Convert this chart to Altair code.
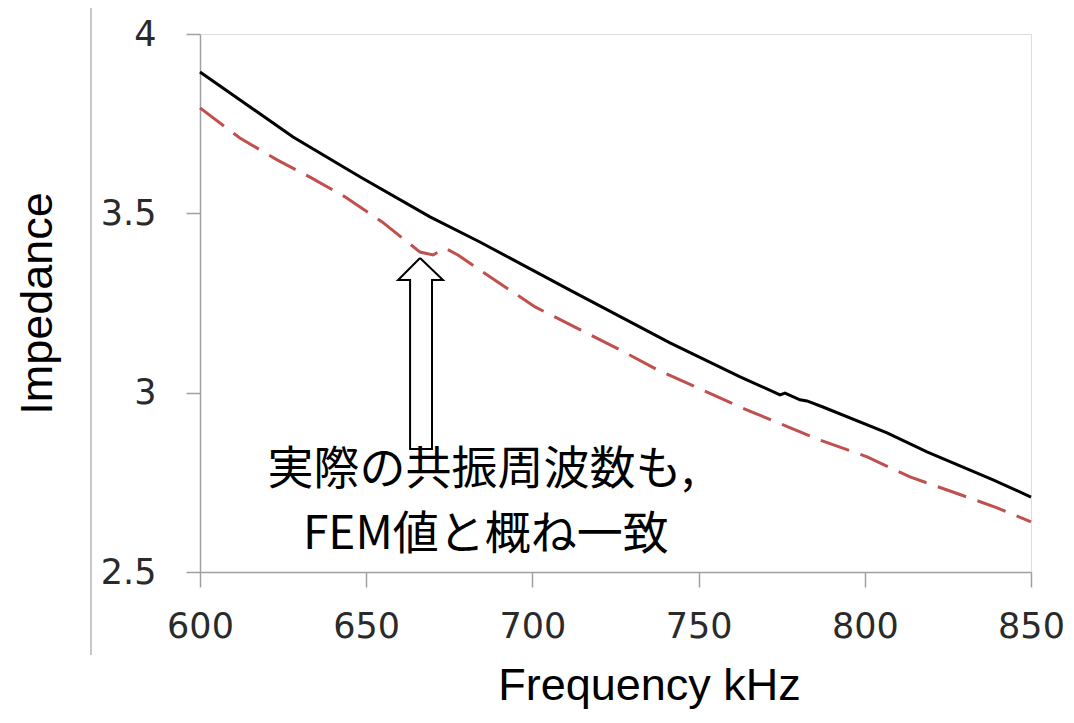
import altair as alt
import pandas as pd

# Black solid line
black_freq = [600, 628.0, 648.1, 669.2, 684.2, 711.3, 741.4, 762.5, 774.5, 776.0,
              780.5, 782.6, 787.4, 806.7, 818.7, 838.6, 850]
black_imp = [3.894, 3.713, 3.602, 3.490, 3.420, 3.286, 3.139, 3.044, 2.994, 2.999,
             2.980, 2.977, 2.960, 2.888, 2.835, 2.757, 2.709]

# Red dashed line
red_freq = [600, 612.0, 623.2, 633.1, 643.6, 654.8, 666.2, 670.1, 673.7, 677.6,
            684.2, 700.8, 713.4, 726.4, 737.8, 749.8, 762.5, 766.1, 786.5,
            800.7, 813.6, 826.5, 839.8, 850]
red_imp = [3.794, 3.710, 3.649, 3.601, 3.546, 3.476, 3.392, 3.384, 3.403, 3.384,
           3.342, 3.239, 3.180, 3.119, 3.063, 3.013, 2.960, 2.946, 2.868,
           2.821, 2.765, 2.723, 2.679, 2.640]

x_ticks = [600, 650, 700, 750, 800, 850]
y_ticks = [2.5, 3, 3.5, 4]

# Hollow up-arrow annotation outline (in data coordinates)
arrow_freq = [666.2, 673.1, 669.8, 669.8, 663.2, 663.2, 659.6, 666.2]
arrow_imp = [3.3755, 3.3142, 3.3142, 2.843, 2.843, 3.3142, 3.3142, 3.3755]

note_lines = ["実際の共振周波数も,", "FEM値と概ね一致"]
note_freq = [684.5, 686.0]
note_imp = [2.785, 2.603]

black_df = pd.DataFrame({"f": black_freq, "z": black_imp})
red_df = pd.DataFrame({"f": red_freq, "z": red_imp})
arrow_df = pd.DataFrame({"f": arrow_freq, "z": arrow_imp, "o": list(range(len(arrow_freq)))})
note_df = pd.DataFrame({"t": note_lines, "f": note_freq, "z": note_imp})

xs = alt.Scale(domain=[600, 850], nice=False, zero=False)
ys = alt.Scale(domain=[2.5, 4], nice=False, zero=False)

x_axis = alt.Axis(values=x_ticks, title="Frequency kHz", grid=False,
                  labelFontSize=35, labelFont="DejaVu Sans", labelColor="#2a2a2a",
                  labelPadding=22, tickSize=15, tickColor="#a0a0a0", domainColor="#a0a0a0",
                  domainWidth=1.5, tickWidth=1.5,
                  titleFontSize=45, titleFont="Liberation Sans", titleFontWeight="normal",
                  titleColor="#000000", titlePadding=19, titleX=449, labelFlush=False)
y_axis = alt.Axis(values=y_ticks, title="Impedance", grid=False,
                  labelFontSize=35, labelFont="DejaVu Sans", labelColor="#2a2a2a",
                  labelPadding=30, tickSize=14, tickColor="#a0a0a0", domainColor="#a0a0a0",
                  domainWidth=1.5, tickWidth=1.5, labelExpr="datum.value",
                  titleFontSize=45, titleFont="Liberation Sans", titleFontWeight="normal",
                  titleColor="#000000", titlePadding=40, labelFlush=False)

black = alt.Chart(black_df).mark_line(color="#000000", strokeWidth=3).encode(
    x=alt.X("f:Q", scale=xs, axis=x_axis),
    y=alt.Y("z:Q", scale=ys, axis=y_axis),
)
red = alt.Chart(red_df).mark_line(color="#c0504d", strokeWidth=3, strokeDash=[30, 12]).encode(
    x=alt.X("f:Q", scale=xs),
    y=alt.Y("z:Q", scale=ys),
)
arrow = alt.Chart(arrow_df).mark_line(color="#000000", strokeWidth=2).encode(
    x=alt.X("f:Q", scale=xs),
    y=alt.Y("z:Q", scale=ys),
    order="o:Q",
)
note = alt.Chart(note_df).mark_text(font="Noto Sans CJK JP", fontSize=46, color="#000000",
                                    align="center", baseline="middle").encode(
    x=alt.X("f:Q", scale=xs),
    y=alt.Y("z:Q", scale=ys),
    text="t:N",
)
frame = alt.Chart(pd.DataFrame({"a": [0]})).mark_rule(color="#c8c8c8", strokeWidth=2).encode(
    x=alt.value(-109), y=alt.value(-26), y2=alt.value(621)
)

chart = alt.layer(frame, red, black, arrow, note).properties(
    width=831, height=538,
    autosize=alt.AutoSizeParams(type="none"),
    padding={"left": 192, "top": 26, "right": 34, "bottom": 137},
).configure_view(stroke="#a0a0a0", strokeWidth=1.5).configure(background="white")

chart.save("out.html", embed_options={"renderer": "svg", "actions": False})
